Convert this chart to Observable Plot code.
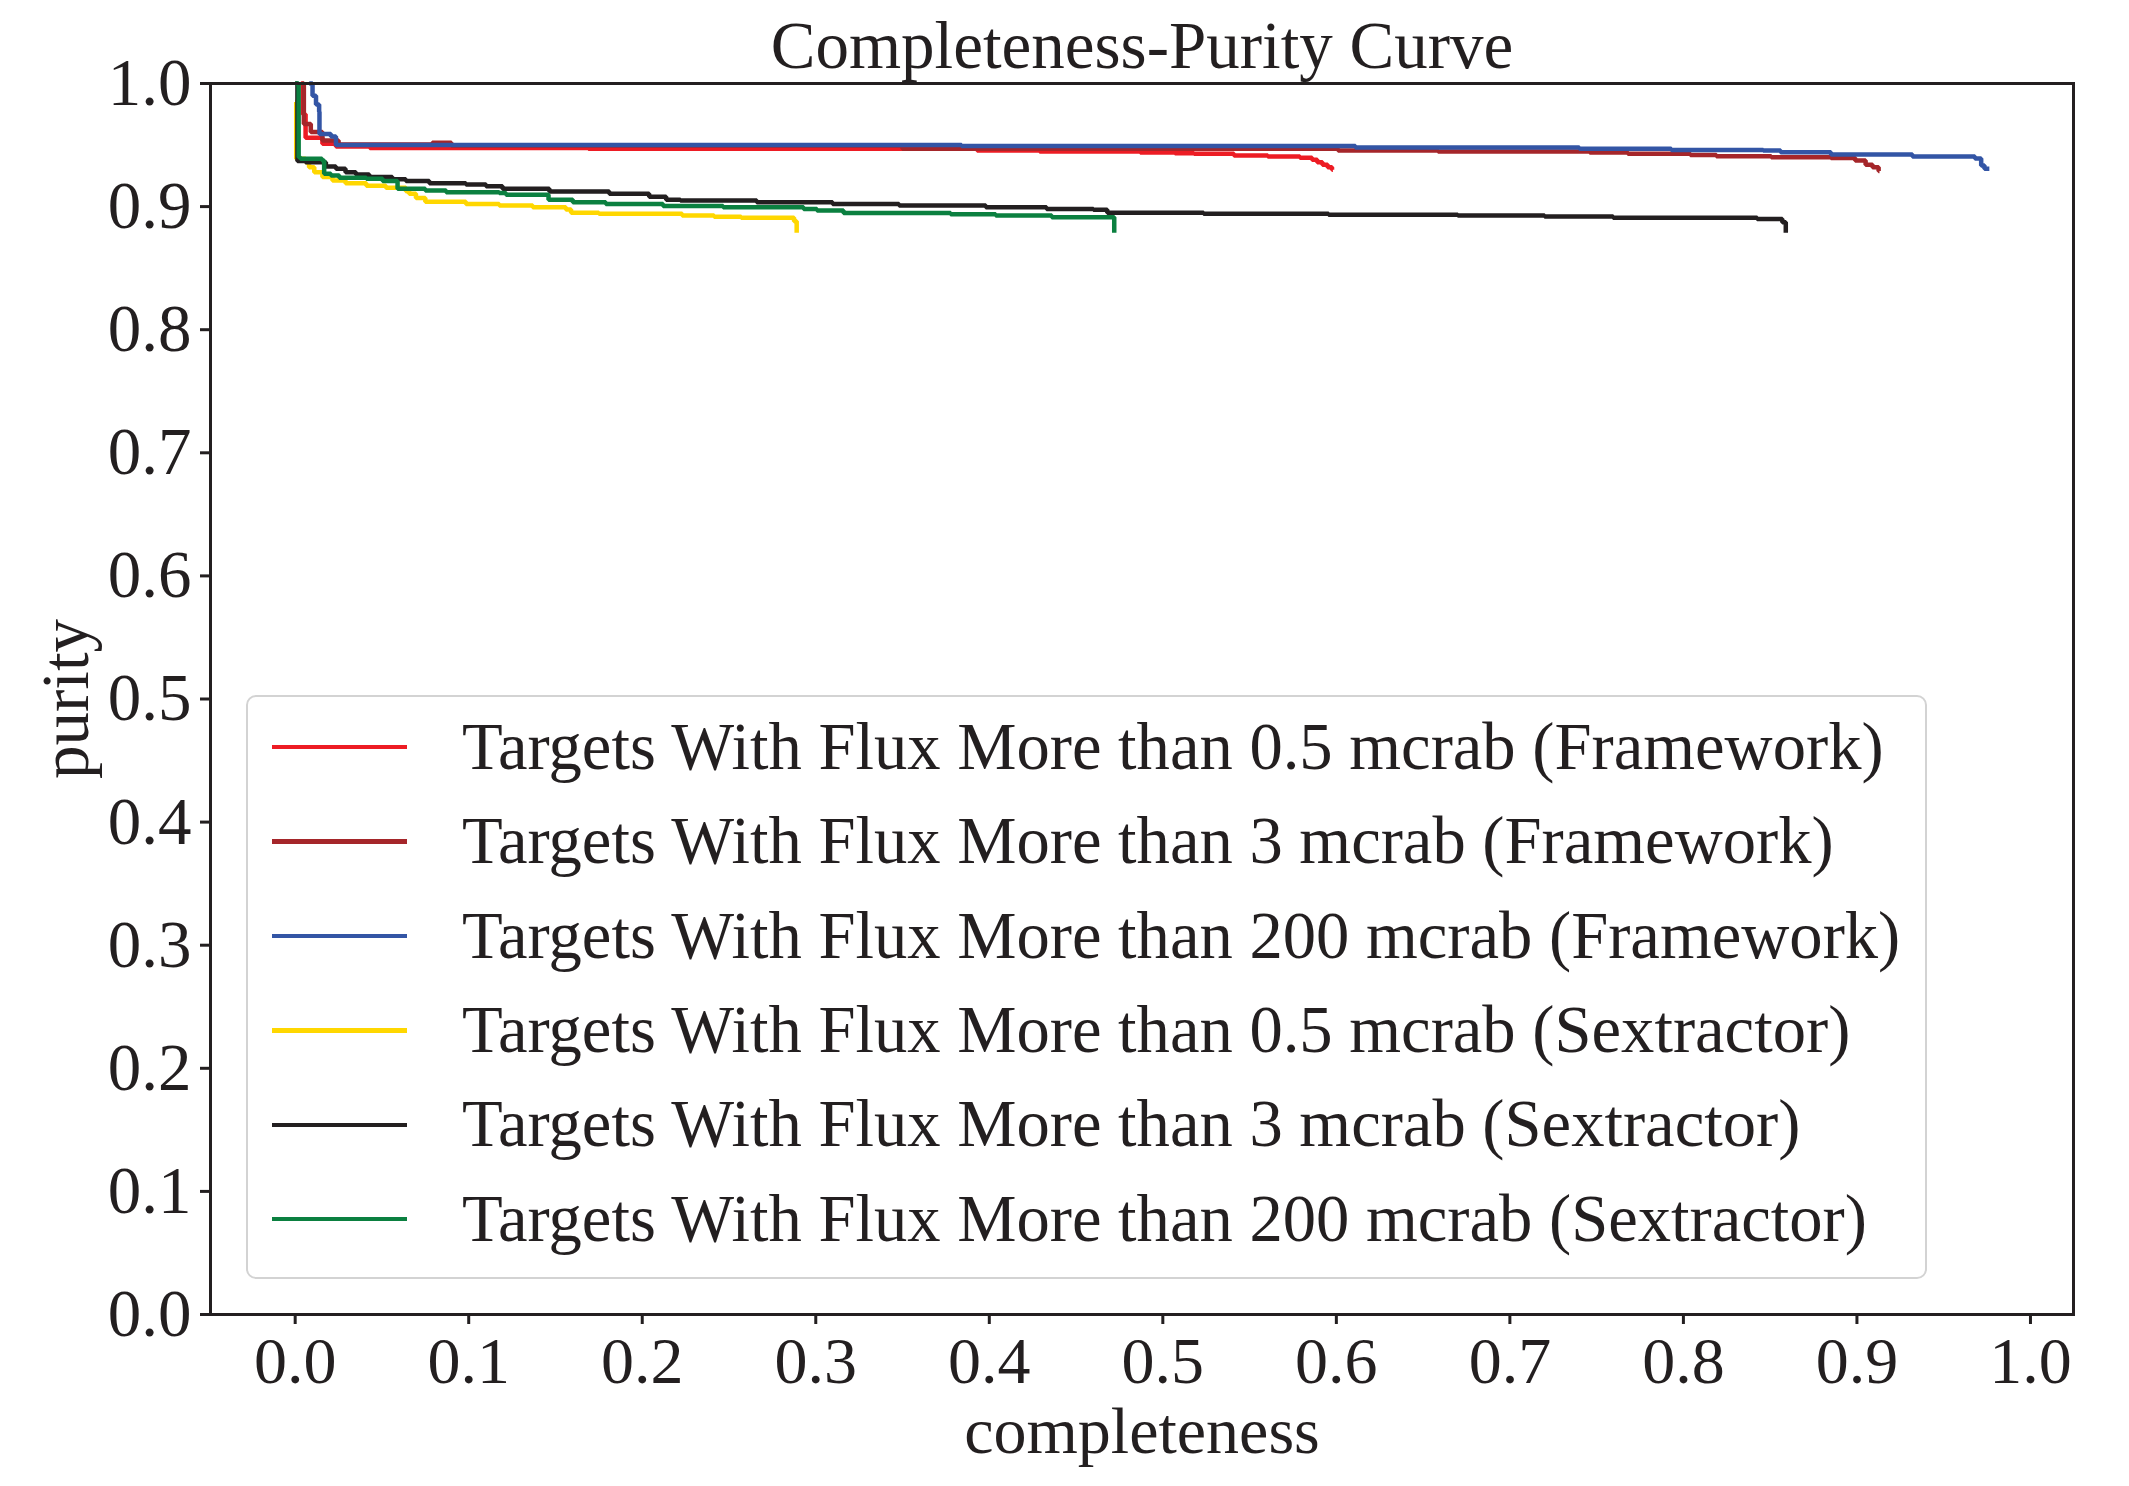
<!DOCTYPE html>
<html>
<head>
<meta charset="utf-8">
<script src="https://cdn.jsdelivr.net/npm/d3@7"></script>
<script src="https://cdn.jsdelivr.net/npm/@observablehq/plot@0.6"></script>
<style>
  html, body { margin: 0; padding: 0; background: #fff; }
  #wrap { position: relative; width: 2129px; height: 1486px; font-family: "Liberation Serif", "Times New Roman", serif; color: #231f20; }
  #legend { position: absolute; left: 246px; top: 695px; width: 1681px; height: 584px; box-sizing: border-box;
            border: 2.5px solid #d3d3d3; border-radius: 10px; background: rgba(255,255,255,0.85); padding-top: 3px; }
  .row { display: flex; align-items: center; height: 94.4px; }
  .sw { margin-left: 24px; width: 135px; height: 4.5px; }
  .lab { margin-left: 55px; font-size: 66.6px; line-height: 1; white-space: nowrap; }
</style>
</head>
<body>
<div id="wrap"></div>
<script>
// ---- data ----
const titleText = "Completeness-Purity Curve";
const xLabel = "completeness";
const yLabel = "purity";
const xTicks = [0, 0.1, 0.2, 0.3, 0.4, 0.5, 0.6, 0.7, 0.8, 0.9, 1.0];
const yTicks = [0, 0.1, 0.2, 0.3, 0.4, 0.5, 0.6, 0.7, 0.8, 0.9, 1.0];

const seriesNames = [
  "Targets With Flux More than 0.5 mcrab (Framework)",
  "Targets With Flux More than 3 mcrab (Framework)",
  "Targets With Flux More than 200 mcrab (Framework)",
  "Targets With Flux More than 0.5 mcrab (Sextractor)",
  "Targets With Flux More than 3 mcrab (Sextractor)",
  "Targets With Flux More than 200 mcrab (Sextractor)"
];
const seriesColors = ["#ed1c24", "#a5262a", "#3355a5", "#ffd700", "#231f20", "#0b8040"];

// 0.5 mcrab (Framework)
const fw05X = [0.0033, 0.0045, 0.006, 0.0157, 0.0235, 0.043, 0.169, 0.393, 0.429, 0.487, 0.507, 0.518, 0.541, 0.5605, 0.579, 0.586, 0.589, 0.592, 0.595, 0.5975, 0.598];
const fw05Y = [1.000, 0.975, 0.956, 0.951, 0.9488, 0.9477, 0.947, 0.9456, 0.9448, 0.944, 0.9434, 0.9429, 0.9415, 0.9407, 0.9396, 0.938, 0.936, 0.934, 0.932, 0.930, 0.930];
// 3 mcrab (Framework)
const fw3X = [0.0042, 0.005, 0.009, 0.0157, 0.025, 0.079, 0.09, 0.35, 0.601, 0.6586, 0.746, 0.768, 0.804, 0.819, 0.8506, 0.885, 0.899, 0.905, 0.909, 0.9125, 0.913];
const fw3Y = [1.000, 0.967, 0.9605, 0.9537, 0.9505, 0.9518, 0.9497, 0.947, 0.9456, 0.9448, 0.944, 0.9429, 0.942, 0.941, 0.940, 0.9394, 0.9375, 0.934, 0.932, 0.929, 0.929];
// 200 mcrab (Framework)
const fw200X = [0.0081, 0.010, 0.012, 0.0138, 0.014, 0.0206, 0.0235, 0.384, 0.611, 0.740, 0.793, 0.846, 0.856, 0.885, 0.932, 0.968, 0.9716, 0.9735, 0.9763];
const fw200Y = [1.000, 0.990, 0.983, 0.977, 0.959, 0.957, 0.950, 0.9492, 0.948, 0.947, 0.946, 0.9456, 0.9442, 0.9423, 0.9407, 0.939, 0.9334, 0.9307, 0.9307];
// 0.5 mcrab (Sextractor)
const sx05X = [0.0, 0.0006, 0.006, 0.008, 0.011, 0.0157, 0.0215, 0.029, 0.041, 0.0523, 0.0638, 0.0657, 0.0696, 0.075, 0.0984, 0.1176, 0.1369, 0.156, 0.159, 0.175, 0.223, 0.2414, 0.257, 0.2875, 0.289];
const sx05Y = [0.985, 0.9388, 0.936, 0.932, 0.928, 0.924, 0.9212, 0.919, 0.917, 0.9153, 0.9125, 0.9104, 0.907, 0.904, 0.9022, 0.9009, 0.8995, 0.8976, 0.895, 0.8941, 0.8928, 0.8917, 0.8909, 0.888, 0.8787];
// 3 mcrab (Sextractor)
const sx3X = [0.0, 0.0013, 0.006, 0.0177, 0.0235, 0.029, 0.035, 0.0427, 0.056, 0.0638, 0.0773, 0.0984, 0.110, 0.1195, 0.1465, 0.181, 0.204, 0.2138, 0.222, 0.266, 0.3097, 0.348, 0.398, 0.433, 0.460, 0.468, 0.5235, 0.5955, 0.670, 0.72, 0.7595, 0.8425, 0.857, 0.859];
const sx3Y = [1.000, 0.937, 0.936, 0.9326, 0.9307, 0.928, 0.926, 0.924, 0.9223, 0.9207, 0.919, 0.918, 0.9166, 0.9144, 0.9123, 0.9104, 0.908, 0.9055, 0.905, 0.9036, 0.9022, 0.9009, 0.8995, 0.898, 0.8974, 0.895, 0.8941, 0.8933, 0.8928, 0.892, 0.8909, 0.890, 0.8873, 0.8787];
// 200 mcrab (Sextractor)
const sx200X = [0.0, 0.002, 0.003, 0.0155, 0.0167, 0.0206, 0.0254, 0.041, 0.0504, 0.059, 0.075, 0.087, 0.1176, 0.1215, 0.146, 0.16, 0.179, 0.212, 0.2466, 0.293, 0.3007, 0.316, 0.3777, 0.4037, 0.436, 0.4715, 0.472];
const sx200Y = [1.000, 0.940, 0.9388, 0.9374, 0.9266, 0.9253, 0.9234, 0.9226, 0.9207, 0.9144, 0.913, 0.9117, 0.911, 0.9096, 0.9055, 0.9036, 0.9022, 0.9005, 0.8995, 0.898, 0.8968, 0.8947, 0.8938, 0.8928, 0.8914, 0.8914, 0.8787];

const seriesX = [fw05X, fw3X, fw200X, sx05X, sx3X, sx200X];
const seriesY = [fw05Y, fw3Y, fw200Y, sx05Y, sx3Y, sx200Y];

// ---- build table ----
const rows = [];
seriesNames.forEach((name, i) => {
  seriesX[i].forEach((x, j) => rows.push({series: name, completeness: x, purity: seriesY[i][j]}));
});

const fmt = d3.format(".1f");
const ink = "#231f20";

const chart = Plot.plot({
  width: 2129,
  height: 1486,
  marginLeft: 210,
  marginRight: 56,
  marginTop: 83,
  marginBottom: 172,
  x: {domain: [-0.0488, 1.0248]},
  y: {domain: [0, 1]},
  color: {domain: seriesNames, range: seriesColors},
  style: {fontFamily: "'Liberation Serif', 'Times New Roman', serif", fontSize: "66px", color: ink, background: "white", overflow: "visible"},
  marks: [
    Plot.axisX({ticks: xTicks, tickFormat: fmt, tickSize: 10, tickPadding: 12, strokeWidth: 3, stroke: ink, fill: ink,
                label: xLabel, labelAnchor: "center", labelOffset: 138, labelArrow: "none", fontSize: 66}),
    Plot.axisY({ticks: yTicks, tickFormat: fmt, tickSize: 10, tickPadding: 9, strokeWidth: 3, stroke: ink, fill: ink,
                label: yLabel, labelAnchor: "center", labelOffset: 170, labelArrow: "none", fontSize: 67}),
    ...seriesNames.map(name => Plot.line(rows.filter(r => r.series === name),
      {x: "completeness", y: "purity", stroke: "series", strokeWidth: 4.5, curve: "step-after", strokeLinejoin: "miter", strokeLinecap: "butt"})),
    Plot.frame({stroke: ink, strokeWidth: 3}),
    Plot.text([titleText], {frameAnchor: "top", text: d => d, dy: -16, lineAnchor: "bottom", fontSize: 67, fill: ink})
  ]
});

const wrap = document.getElementById("wrap");
wrap.appendChild(chart);

// legend
const legend = document.createElement("div");
legend.id = "legend";
seriesNames.forEach((name, i) => {
  const row = document.createElement("div");
  row.className = "row";
  const sw = document.createElement("div");
  sw.className = "sw";
  sw.style.background = seriesColors[i];
  const lab = document.createElement("div");
  lab.className = "lab";
  lab.textContent = name;
  row.appendChild(sw);
  row.appendChild(lab);
  legend.appendChild(row);
});
wrap.appendChild(legend);
</script>
</body>
</html>
